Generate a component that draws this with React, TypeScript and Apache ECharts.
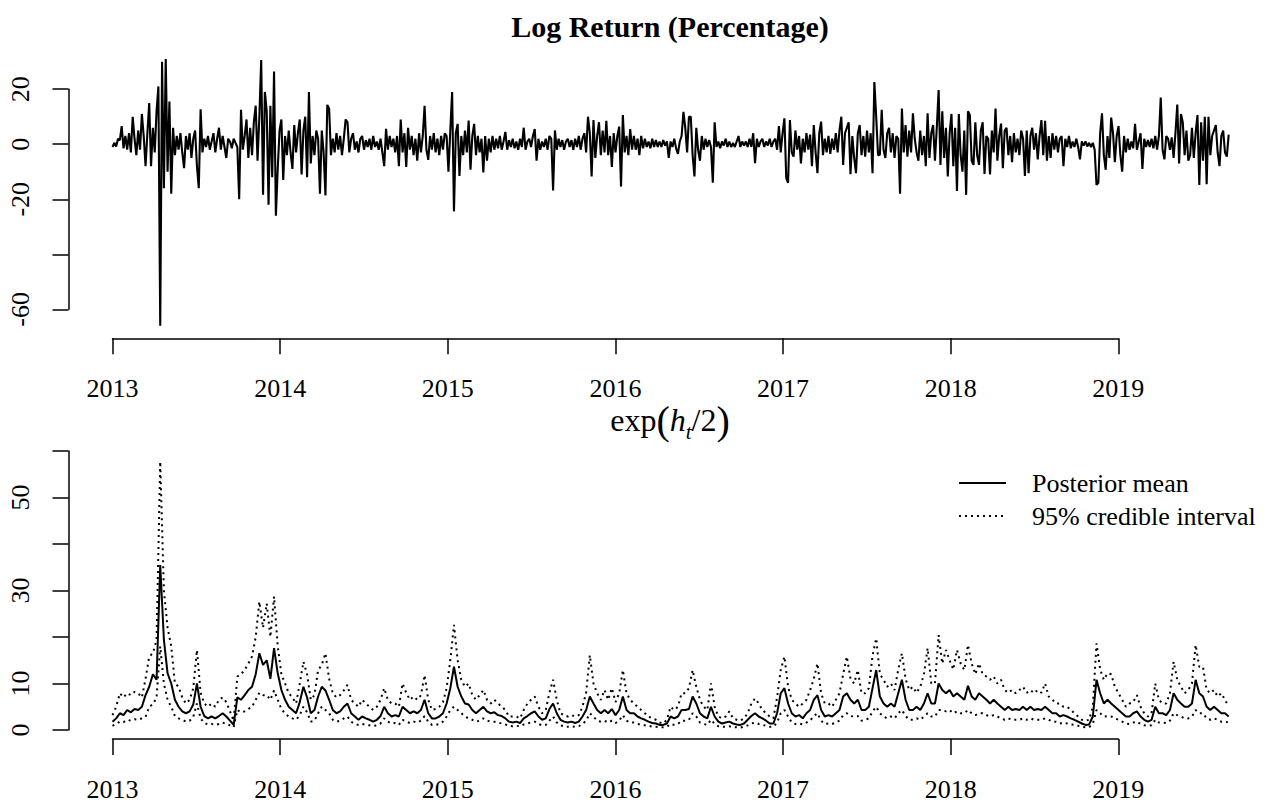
import React, { useEffect, useRef } from "react";
import * as echarts from "echarts";

// ---------- data ----------
const START_YEAR = 2013;
const RET_STEP_DAYS = 4; // spacing of the log-return samples
const VOL_STEP_DAYS = 8; // spacing of the volatility samples
const yearTicks = [2013, 2014, 2015, 2016, 2017, 2018, 2019];
const topYLabels = [-60, -20, 0, 20];
const bottomYLabels = [0, 10, 30, 50];

const logReturn = [
  -1, 0.5, -0.8, 2, 1.5, 6.6, -1.5, 3, -2, 4, -3, 10, 2, -4, 5, -2, 11, 3, -8, 4,
  15, -8, 6, -3, 12, 21, -66, 30, -16, 31, -10, 15.5, -18, 6, -4, 3, -2, 4, -3, -8.7,
  3, -2, 4, -5, 2, 5, -8, -16, 12.7, -3, 2, -1, 3, -2, 1, 4, -3, 2, 6, -2,
  3, -1, -5, 2, 1, -1.5, 2, 0.5, -1, -20, 12.5, -2, 3, 9, -5, 6, -4, 8, 14, -6,
  10, 30.6, -18.4, 19, 12, -22, 14, -12, 26.4, -26, -9, 5, 9, -13, 3, -4, 5, -3, -9, 7,
  -3, 4, 9, -11, 5, 10, -12, 19, -7, 3, -4, 5, 2, -18, 5, -3, -18.6, 14.3, 13, -4,
  2, -3, 4, -2, 3, -4, 2, 9, 8, -3, 2, 4, -2, 1, -3, 2, 3, -2, 1.5, -1,
  2, -2, 3, -1, 1, -2, 2, -3, -8, 5.6, -2, 3, -1, 2, -3, 3, -8, 9, -3, 4,
  -8.3, 6, -2, 3, -4, 2, -6, 4, -3, 3, 14, -2, -5.7, 3, -2, 4, -3, 2, -4, 3,
  -2, 4, 3, -10, 5, 19, -24.4, 4, 7.4, -11.5, 3, -4, 5, -3, 8.6, -9.3, 3, 7.4, -4, 3,
  -3, 2, -10.3, 3, -6, 2, -3, 3, -2, 2, -1.5, 3, -2, 1, 4.5, -2, 1.5, -1, 2, -1.5,
  1, -2, 2, -1, 6, -2, 1, 2, -1, 3, 5.5, -6, 2, -2, 1, -1, 2, -2, 3, 2,
  -16.8, 5, -2, 2, -1, 1.5, -2, 1, 2, -1, 1.5, -2, 2, -1, 3, -2, 2, 4, -3, 10,
  4, -11.7, 8.8, -5, 3, 8, -4, 5, -3, 8.5, -4, 3, -8.3, 4, -3, 3, 6.4, -15.4, 10.6, -3,
  3, -4, 5.5, -2, 3, -2, 2, -4, 3, -1.5, 2, -1, 1, -1.5, 2, -1, 1.5, -1, 1, -1,
  1.5, -0.5, 1, -5, 1, -1, 2, -1.5, -3.5, 1, 3, 11.8, 6, -3, 10, 10, -4, -11.7, 6, -2,
  -6, 3, -2, 2, -1, 1.5, -1, -14, 8, -1, 1, -1.5, 1, -0.5, 2, -1, 1, -1, 0.5, -1,
  1, 3, -1, 1, -0.5, 1, -1, 2, -1, 4, -6.9, 2, -1, 1, 2, -1, 1, -0.5, 2, -1,
  1, 2, -2, 6.6, -3, 4, 9.4, -12.3, -14, 8.8, -3, -4.5, 5, -2, 3, -7, 2, -3, 4, -2,
  3.5, -8, 7, -3, -10.5, 4, 8.2, -4, 2, -3, 3, -3.5, 2, -2, 4, -3, 5, 10, -7.5, 4,
  6, 8, -10.9, 3, -5, -10.5, 4, 7, -4, 3, -4.5, 5, -3, 4, -10.5, 22.6, 10, -4, -3.8, 12.5,
  -2, -5, 4, 6, -3, 4, -5, 3, 2, -18, 13, -3, 7, -4.5, 5, -3, 11.2, 2, -3, -6,
  5, -4, 3, -8, 11.2, -5, 4, 7, -6, 6, 19.7, -7.5, 12, -5, 6, -11.7, 4, 11, -8, 6,
  -17, 11, -4, -10, 5, -18.4, 12, 10.6, -6, -7.5, 8, -4, -7.5, 5, 8, -10.8, 3, 2, -11, 5,
  -3, 13, -6, 3, 7.5, -8.7, 5, 6, -4, 3, -6.5, 4, -3, 2, -4, 5, 2, -11.5, 5, -10.5,
  3, 6, -2, 4, -5.5, 3, 8.8, -4, 8.5, -6, 3, -5, 4, -2, 3, -3, 2, 3, -8, 2,
  -1, 3, -1.5, 1, -1, 2, -1, -5.5, 1, -0.5, 1, -0.8, 0.5, -1, 0.5, -2, -14.8, -14, 4, 11.2,
  -4, -9.3, 3, -5, 9.7, 4, -6.5, 3, 6.6, -4, -10, 3, -3, 2, -2, 1, -1.5, 7.4, -2, 1,
  4, -9, 2, -1, 1.5, -1, 2, -1.5, 3, -2, 3, 17, -2, -5.5, 3, 2, -2, 2.5, -5, 4,
  14.4, -7, 11, 8, -4, 5, -6, -4, 6, -5, 4, 10.6, -14.8, 8, -6, 10, -14.5, 10, -4, 3,
  5, 7, -3, -8, 3, 5, -3, -4.5, 3.5,
];

const volMean = [
  1.8, 2.5, 3.6, 3.2, 4.3, 3.8, 4.5, 4.3, 5, 7.5,
  9.3, 12, 10.8, 35.5, 19.4, 12.2, 10, 6.5, 5, 4,
  3.6, 4, 5.5, 10, 5, 3, 2.5, 2.9, 2.5, 3,
  3.6, 2.9, 2, 1.1, 7, 6.5, 7.5, 8.6, 9.3, 12,
  16.5, 14, 15, 11, 17.6, 12.2, 8.6, 6.5, 5, 4.3,
  3.6, 6, 9.3, 7, 3.6, 4.3, 7.2, 9.3, 8.5, 6.5,
  4.3, 3.6, 4, 5, 5.7, 3.6, 2.9, 2.2, 2.9, 2.5,
  2.2, 1.8, 2.2, 3, 5, 3.6, 2.9, 3.2, 2.9, 5,
  4.3, 3.6, 4, 3.6, 4.3, 6.5, 3.6, 2.5, 2.5, 2.9,
  3.6, 5.7, 9, 13.6, 9.3, 7.2, 5.7, 5.5, 4.3, 3.6,
  4.3, 5, 4, 3.6, 3.8, 3.2, 3, 2.5, 1.8, 1.6,
  1.8, 1.5, 2.5, 3, 3.6, 4, 2.9, 2.2, 2.5, 4.5,
  5.7, 3.6, 2.2, 1.8, 1.6, 1.8, 1.5, 1.8, 2.9, 4.3,
  7.2, 5.7, 4.3, 3.6, 4.3, 3.6, 4.5, 3.2, 4.3, 7.2,
  4.3, 3.6, 3.6, 2.9, 2.5, 2.2, 1.8, 1.5, 1.4, 1.1,
  1.1, 1.4, 2.9, 2.5, 2.9, 4.3, 4.3, 4.5, 7.2, 5.7,
  3.6, 2.9, 2.5, 5, 2.9, 1.8, 1.4, 1.6, 1.8, 1.4,
  1.2, 1.1, 1.4, 2.2, 3, 3.6, 2.9, 2.5, 2, 1.4,
  1.4, 3.6, 7.9, 9, 5.7, 3.6, 2.9, 3.2, 2.5, 3.6,
  4.3, 6.5, 7.5, 4.3, 2.9, 3.2, 2.9, 3.6, 4.3, 7.2,
  7.9, 6.5, 5.7, 6.5, 4.3, 4.3, 5, 9, 12.9, 7.2,
  5.7, 5, 5.7, 5, 7.9, 10.8, 6.5, 4.3, 4.3, 5,
  4.3, 5.7, 7.9, 5.7, 5.7, 10, 8.6, 7.9, 8.6, 7.2,
  7.9, 7.2, 6.5, 9.5, 7.2, 6.5, 7.9, 7.2, 6.5, 5.7,
  6.5, 5.7, 5, 4.3, 5, 4.3, 4.5, 4.3, 5, 4.3,
  5, 4.3, 4.5, 4.3, 5, 4.3, 3.6, 3.6, 2.9, 3.2,
  2.9, 2.5, 2.2, 1.8, 1.4, 1.1, 1.2, 2.9, 10.8, 7.9,
  5.7, 6.5, 5.7, 5, 4.3, 3.6, 2.9, 2.9, 3.6, 4,
  2.9, 2.2, 1.8, 2.2, 5, 3.6, 3.6, 3.2, 4.3, 7.9,
  6.5, 5.7, 5, 5, 5.7, 10.8, 7.9, 7.2, 5, 4.3,
  5, 4.3, 3.6, 3.6, 2.9,
];

const volUpper = [
  3.2, 5, 7.9, 7, 7.9, 7.5, 8.2, 7.9, 7, 11,
  15.8, 16.5, 19.4, 57.7, 30, 22, 18, 10, 9.3, 7,
  5.7, 6.5, 9, 17.2, 8, 5.7, 5, 5.7, 5, 6.5,
  7, 6, 4, 2, 11.5, 12, 12.9, 14.3, 15.8, 20,
  27.6, 22, 27.2, 20, 28.7, 18, 12, 10, 7.9, 7,
  5.7, 10, 14.7, 12, 6.5, 7.5, 12.9, 14, 16.5, 11,
  7.9, 7, 7.5, 8.5, 9.7, 6.5, 5.7, 5, 6.5, 5.7,
  5, 4.3, 5, 6.5, 9, 6.5, 5.7, 5.7, 5, 10,
  8, 6.5, 7.2, 6.5, 7.5, 11.8, 6.5, 4.3, 4.5, 5,
  6, 9, 15, 22.6, 15, 10.8, 9.3, 10, 7.5, 6.5,
  7.5, 8.6, 6.5, 5.7, 6.5, 5.7, 5, 4.3, 2.9, 2.9,
  2.9, 2.5, 4.3, 5.7, 6.5, 7.2, 5, 3.6, 4.3, 8,
  10.8, 6.5, 3.6, 3.2, 2.9, 3.2, 2.9, 3.2, 5, 8,
  16.1, 10, 7.9, 6.5, 8.6, 6.5, 9, 6, 7.9, 12.9,
  7.9, 6.5, 5.7, 5, 4.3, 3.6, 2.9, 2.5, 2.2, 1.6,
  1.4, 2.2, 5, 4.3, 5, 7.9, 7.9, 9, 12.9, 9.3,
  6.5, 5, 4.3, 10, 5, 2.9, 2.5, 2.9, 4, 2.5,
  2.2, 2, 2.5, 3.6, 5.7, 6.8, 5.7, 4.3, 3.6, 2.9,
  2.5, 7, 12.9, 15.8, 9.3, 6.5, 5.7, 5, 5.7, 6.5,
  8.6, 11, 14.3, 7.9, 5.7, 5.7, 5, 6.5, 7.9, 12,
  15.8, 11, 10, 12.9, 7.9, 7.9, 9, 16, 19.7, 12,
  10.8, 9.3, 10, 8.6, 13, 16.5, 11, 8.6, 9.3, 8,
  9.3, 12, 17.6, 10, 10, 20.4, 14.3, 17.2, 15, 13,
  17.2, 14.3, 12.9, 18.3, 14.3, 12, 14.3, 12, 11.5, 10.8,
  11.5, 10, 10.8, 8.6, 8, 8.6, 7.9, 8.6, 9.3, 8,
  8.6, 7.9, 8.6, 8, 10, 7.2, 6.5, 5.7, 5.7, 5,
  5, 4.3, 3.6, 2.9, 2.2, 2, 2.2, 5, 18.6, 13,
  10.8, 12.2, 12, 9.3, 7.9, 6.5, 5, 5.7, 6, 7.5,
  5, 3.6, 2.9, 3.6, 10, 6.5, 5.7, 5.7, 7.9, 14.7,
  10.8, 9.3, 7.9, 8.6, 10, 18.3, 13.6, 13.6, 8.6, 7.9,
  8.6, 7.2, 7.9, 6.5, 5,
];

const volLower = [
  0.9, 1.3, 1.8, 1.7, 2.2, 2, 2.3, 2.2, 2.5, 2.8,
  5, 5.5, 7, 18, 10, 6.5, 5, 3, 2.5, 2.2,
  1.8, 2, 2.8, 5.7, 2.5, 1.5, 1.2, 1.3, 1.1, 1.3,
  1.6, 1.3, 1, 0.6, 4.3, 3.8, 4, 4.5, 5, 6.5,
  8, 7.5, 7.5, 6.5, 8.5, 6.5, 4.5, 3.5, 2.9, 2.5,
  2.2, 3.2, 5, 3.8, 1.8, 2, 3.6, 5, 4.3, 3.6,
  2.2, 1.8, 2, 2.5, 2.9, 1.8, 1.3, 1.1, 1.3, 1.1,
  1, 0.9, 1, 1.4, 2.5, 1.8, 1.4, 1.5, 1.1, 2.2,
  1.8, 1.5, 1.8, 1.6, 2, 3, 1.8, 1.1, 1.1, 1.3,
  1.8, 2.9, 4.3, 5, 4.3, 3.6, 2.9, 2.5, 2.2, 1.8,
  2, 2.5, 2, 1.8, 1.8, 1.6, 1.4, 1.2, 0.9, 0.8,
  0.9, 0.8, 1.2, 1.4, 1.6, 1.8, 1.3, 1, 1.1, 2,
  2.9, 1.6, 1, 0.8, 0.7, 0.8, 0.7, 0.8, 1.3, 2,
  3.6, 2.9, 2, 1.8, 2, 1.6, 2, 1.5, 2, 3.2,
  2, 1.6, 1.6, 1.3, 1.1, 1, 0.9, 0.7, 0.7, 0.6,
  0.6, 0.7, 1.3, 1.1, 1.3, 2, 2, 2.2, 3.6, 2.9,
  1.6, 1.3, 1.1, 2.2, 1.3, 0.8, 0.7, 0.7, 0.8, 0.6,
  0.6, 0.5, 0.7, 1, 1.4, 1.6, 1.3, 1.1, 0.9, 0.7,
  0.7, 1.6, 3.6, 4.3, 2.9, 1.6, 1.3, 1.4, 1.2, 1.6,
  2, 3, 3.6, 2, 1.3, 1.4, 1.3, 1.6, 2, 3.2,
  3.6, 3, 2.9, 3, 2, 2.2, 2.5, 4, 5, 3.6,
  2.9, 2.5, 2.9, 2.5, 3.6, 4.3, 3, 2.2, 2.2, 2.5,
  2.2, 2.9, 3.6, 2.9, 2.9, 4.3, 4.3, 4, 4.3, 3.6,
  4, 3.6, 3.6, 4.3, 3.6, 3.2, 3.6, 3.6, 3.2, 2.9,
  3.2, 2.9, 2.5, 2.2, 2.5, 2.2, 2.2, 2.2, 2.5, 2.2,
  2.5, 2.2, 2.2, 2.2, 2.5, 2.2, 1.8, 1.8, 1.4, 1.6,
  1.4, 1.2, 1.1, 0.9, 0.7, 0.6, 0.6, 1.3, 4.3, 3.6,
  2.9, 3, 2.9, 2.5, 2.2, 1.8, 1.4, 1.3, 1.6, 1.8,
  1.3, 1, 0.9, 1, 2.2, 1.6, 1.6, 1.5, 2, 3.6,
  3.2, 2.9, 2.5, 2.5, 2.9, 4.3, 3.6, 3.6, 2.5, 2.2,
  2.5, 2.2, 1.8, 1.8, 1.6,
];

// ---------- helpers ----------
const FONT = "'Liberation Serif', 'Times New Roman', Times, serif";
const toPairs = (vals: number[], stepDays: number) =>
  vals.map((v, i) => [START_YEAR + (i * stepDays) / 365.25, v]);

const RET_END = START_YEAR + ((logReturn.length - 1) * RET_STEP_DAYS) / 365.25;
const VOL_END = START_YEAR + ((volMean.length - 1) * VOL_STEP_DAYS) / 365.25;

// plot geometry (pixels)
const PLOT_LEFT = 112.5;
const AXIS_WIDTH = 1005.8; // 2013 .. 2019
const PX_PER_YEAR = AXIS_WIDTH / (yearTicks[yearTicks.length - 1] - yearTicks[0]);
const TOP_TOP = 89.2;
const TOP_H = 220.1;
const BOT_TOP = 451;
const BOT_H = 279;

const gridBox = (top: number, height: number, width: number) => ({
  left: PLOT_LEFT,
  width,
  top,
  height,
  containLabel: false,
  outerBoundsMode: "none",
});

const xAxisShown = (gridIndex: number, offset: number) => ({
  gridIndex,
  type: "value",
  min: yearTicks[0],
  max: yearTicks[yearTicks.length - 1],
  interval: 1,
  offset,
  axisLine: { show: true, onZero: false, lineStyle: { color: "#000", width: 1.5 } },
  axisTick: { show: true, length: 16, lineStyle: { color: "#000", width: 1.5 } },
  axisLabel: {
    color: "#000",
    fontSize: 26,
    fontFamily: FONT,
    margin: 37,
    formatter: (v: number) => (yearTicks.includes(v) ? String(v) : ""),
  },
  splitLine: { show: false },
});

const xAxisHidden = (gridIndex: number, max: number) => ({
  gridIndex,
  type: "value",
  show: false,
  min: yearTicks[0],
  max,
  splitLine: { show: false },
});

const yAxisShown = (gridIndex: number, min: number, max: number, interval: number, labels: number[]) => ({
  gridIndex,
  type: "value",
  min,
  max,
  interval,
  offset: 44,
  axisLine: { show: true, onZero: false, lineStyle: { color: "#000", width: 1.5 } },
  axisTick: { show: true, length: 16, lineStyle: { color: "#000", width: 1.5 } },
  axisLabel: {
    color: "#000",
    fontSize: 26,
    fontFamily: FONT,
    rotate: 90,
    margin: 35,
    formatter: (v: number) => (labels.includes(v) ? String(v) : ""),
  },
  splitLine: { show: false },
});

const yAxisHidden = (gridIndex: number, min: number, max: number) => ({
  gridIndex,
  type: "value",
  show: false,
  min,
  max,
  splitLine: { show: false },
});

const DOTTED = [2, 4];

export default function App() {
  const ref = useRef<HTMLDivElement>(null);

  useEffect(() => {
    document.body.style.margin = "0";
    const chart = echarts.init(ref.current as HTMLDivElement, undefined, { renderer: "svg" });

    const option: any = {
      animation: false,
      backgroundColor: "#fff",
      grid: [
        gridBox(TOP_TOP, TOP_H, AXIS_WIDTH),
        gridBox(TOP_TOP, TOP_H, PX_PER_YEAR * (RET_END - START_YEAR)),
        gridBox(BOT_TOP, BOT_H, AXIS_WIDTH),
        gridBox(BOT_TOP, BOT_H, PX_PER_YEAR * (VOL_END - START_YEAR)),
      ],
      xAxis: [xAxisShown(0, 29), xAxisHidden(1, RET_END), xAxisShown(2, 9), xAxisHidden(3, VOL_END)],
      yAxis: [
        yAxisShown(0, -60, 20, 20, topYLabels),
        yAxisHidden(1, -60, 20),
        yAxisShown(2, 0, 60, 10, bottomYLabels),
        yAxisHidden(3, 0, 60),
      ],
      legend: {
        data: ["Posterior mean", "95% credible interval"],
        orient: "vertical",
        left: 958,
        top: 470,
        padding: 0,
        itemWidth: 47,
        itemHeight: 26,
        itemGap: 7,
        selectedMode: false,
        itemStyle: { opacity: 0, color: "transparent", borderWidth: 0 },
        lineStyle: { color: "#000" },
        textStyle: { color: "#000", fontSize: 26, fontFamily: FONT, padding: [0, 0, 0, 21] },
      },
      graphic: [
        {
          type: "text",
          x: 670,
          y: 26,
          silent: true,
          style: {
            text: "Log Return (Percentage)",
            fill: "#000",
            fontSize: 30,
            fontWeight: "bold",
            fontFamily: FONT,
            align: "center",
            verticalAlign: "middle",
            textAlign: "center",
            textVerticalAlign: "middle",
          },
        },
        {
          type: "text",
          x: 670,
          y: 420,
          silent: true,
          style: {
            text: "{n|exp}{p|(}{i|h}{s|t}{n|/2}{p|)}",
            fill: "#000",
            fontSize: 32,
            fontFamily: FONT,
            align: "center",
            verticalAlign: "middle",
            textAlign: "center",
            textVerticalAlign: "middle",
            rich: {
              n: { fontSize: 32, fontFamily: FONT, fill: "#000" },
              p: { fontSize: 40, fontFamily: FONT, fill: "#000" },
              i: { fontSize: 32, fontFamily: FONT, fontStyle: "italic", fill: "#000" },
              s: { fontSize: 21, fontFamily: FONT, fontStyle: "italic", fill: "#000", padding: [24, 0, 0, 0] },
            },
          },
        },
      ],
      series: [
        {
          name: "Log return",
          type: "line",
          xAxisIndex: 1,
          yAxisIndex: 1,
          data: toPairs(logReturn, RET_STEP_DAYS),
          symbol: "none",
          showSymbol: false,
          clip: false,
          silent: true,
          itemStyle: { color: "#000" },
          lineStyle: { color: "#000", width: 2.1 },
        },
        {
          name: "95% credible interval",
          type: "line",
          xAxisIndex: 3,
          yAxisIndex: 3,
          data: toPairs(volUpper, VOL_STEP_DAYS),
          symbol: "none",
          showSymbol: false,
          clip: false,
          silent: true,
          itemStyle: { color: "#000" },
          lineStyle: { color: "#000", width: 2, type: DOTTED },
        },
        {
          name: "95% credible interval",
          type: "line",
          xAxisIndex: 3,
          yAxisIndex: 3,
          data: toPairs(volLower, VOL_STEP_DAYS),
          symbol: "none",
          showSymbol: false,
          clip: false,
          silent: true,
          itemStyle: { color: "#000" },
          lineStyle: { color: "#000", width: 2, type: DOTTED },
        },
        {
          name: "Posterior mean",
          type: "line",
          xAxisIndex: 3,
          yAxisIndex: 3,
          data: toPairs(volMean, VOL_STEP_DAYS),
          symbol: "none",
          showSymbol: false,
          clip: false,
          silent: true,
          itemStyle: { color: "#000" },
          lineStyle: { color: "#000", width: 2 },
        },
      ],
    };

    chart.setOption(option);
    return () => chart.dispose();
  }, []);

  return <div ref={ref} style={{ width: 1274, height: 805 }} />;
}
